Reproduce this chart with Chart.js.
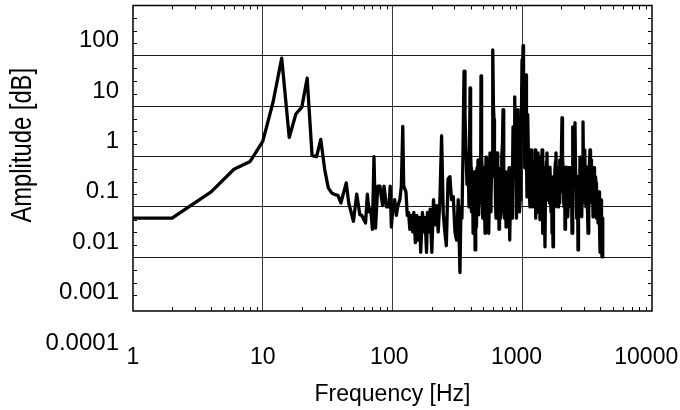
<!DOCTYPE html>
<html><head><meta charset="utf-8">
<script src="https://cdn.jsdelivr.net/npm/chart.js@4"></script>
<style>html,body{margin:0;padding:0;background:#fff}#wrap{width:680px;height:410px;position:relative}</style>
</head><body><div id="wrap"><canvas id="c"></canvas></div>
<script>
const freqs = [
  1,2,4,6,8,10,12,14,16,18,
  20,22,24,26,28,30,32,34,36,38,
  40,44,46,50,53,56,58,62,64,66,
  68,70,72,74,77,80,82,84,86,90,
  94,96,98,100,104,107,110,114,117,120,
  122,127,130,133,136,139,143,146,150,154,
  158,161,165,170,174,178,183,186,191,195,
  201,207,213,219,225,232,239,246,253,260,
  268,277,285,294,303,312,321,
  331,337,343,349,356,362,369,375,382,389,
  396,400,403,406,410,414,418,421,425,429,
  433,436,440,444,448,452,456,460,464,469,
  473,477,481,486,490,494,498,503,507,512,
  517,521,526,530,535,540,545,549,554,559,
  564,569,574,580,585,590,595,600,606,611,
  617,622,628,633,639,644,650,656,662,668,
  674,680,686,692,698,704,711,717,723,730,
  736,743,750,756,763,770,777,784,791,797,
  804,812,819,827,834,841,849,856,864,871,
  879,887,895,903,911,919,927,935,944,952,
  961,970,978,987,996,1005,1014,1023,1032,1041,
  1050,1060,1069,1078,1088,1097,1107,1117,1127,1137,
  1147,1158,1168,1178,1189,1199,1210,1221,1232,1243,
  1254,1265,1276,1288,1299,1311,1322,1334,1346,1358,
  1370,1382,1395,1407,1420,1432,1445,1458,1471,1484,
  1497,1510,1524,1537,1551,1565,1579,1593,1607,1621,
  1636,1651,1666,1681,1696,1711,1726,1741,1757,1772,
  1788,1804,1820,1836,1853,1869,1886,1903,1920,1937,
  1954,1971,1989,2007,2025,2043,2061,2080,2098,2117,
  2136,2155,2174,2193,2213,2232,2252,2272,2293,2313,
  2333,2354,2375,2396,2418,2439,2461,2483,2505,2527,
  2550,2573,2596,2619,2642,2666,2690,2714,2738,2762,
  2787,2812,2837,2862,2887,2913,2939,2965,2992,3018,
  3045,3072,3100,3127,3155,3183,3212,3240,3269,3298,
  3328,3358,3388,3418,3449,3479,3510,3541,3573,3605,
  3637,3670,3702,3735,3769,3802,3836,3870,3905,3940,
  3975,4010,4046,4082,4118,4154,4191
];
const amps = [
  0.03,0.03,0.1,0.28,0.4,1.0,6,45,1.2,3.5,
  4.8,18,0.52,0.5,1.1,0.28,0.12,0.095,0.088,0.085,
  0.06,0.15,0.06,0.026,0.09,0.035,0.034,0.024,0.09,0.04,
  0.045,0.018,0.5,0.019,0.13,0.13,0.08,0.053,0.13,0.05,
  0.05,0.13,0.02,0.039,0.07,0.034,0.053,0.07,0.13,2.0,
  0.13,0.1,0.034,0.039,0.018,0.034,0.016,0.039,0.0098,0.034,
  0.011,0.031,0.0063,0.039,0.016,0.031,0.0063,0.039,0.016,0.045,
  0.0063,0.07,0.022,0.053,0.016,0.07,1.3,0.039,0.016,0.0085,
  0.18,0.2,0.07,0.08,0.016,0.011,0.07,
  0.0025,0.05,0.03,0.5,25,3.4,0.6,0.14,0.4,0.05,
  11.6,0.6,0.3,0.04,0.07,0.2,0.015,0.1,0.044,0.25,
  0.007,0.05,0.07,0.02,0.3,0.08,0.43,0.1,0.035,0.2,
  0.3,0.06,20,0.5,0.31,0.03,0.05,0.25,0.2,0.04,
  0.015,0.15,0.49,0.05,0.1,0.3,0.43,0.06,0.015,0.12,
  0.59,0.04,0.069,0.25,0.3,1.2,66,5,2.7,0.2,
  0.3,0.06,0.03,0.2,0.59,0.07,0.1,0.3,0.018,0.09,
  0.15,0.03,0.04,0.2,0.5,0.9,4.3,0.5,0.13,0.03,
  0.05,0.25,0.02,0.1,0.2,0.04,0.05,0.2,0.3,0.05,
  0.011,0.08,0.13,0.3,0.03,0.2,1.95,0.4,0.2,1.0,
  7.7,0.5,0.13,0.03,0.03,0.4,4.3,0.3,0.3,0.04,
  0.069,0.3,0.5,5,42,20,80,10,6.7,0.6,
  0.3,3,21,0.5,0.079,0.6,3.4,0.4,0.3,0.08,
  0.05,0.3,0.68,0.06,0.1,0.35,0.05,0.15,0.4,0.07,
  0.68,0.1,0.03,0.25,0.039,0.3,0.59,0.06,0.2,0.4,
  0.028,0.15,0.5,0.08,0.68,0.1,0.015,0.2,0.3,0.05,
  0.0081,0.1,0.2,0.4,0.59,0.1,0.069,0.3,0.3,0.06,
  0.31,0.1,0.04,0.2,0.015,0.08,0.0081,0.1,0.2,0.05,
  0.24,0.4,0.59,0.08,0.1,0.3,0.05,0.15,0.3,0.06,
  0.43,0.15,0.1,0.8,2.95,0.5,0.31,0.08,0.05,0.25,
  0.018,0.1,0.31,0.05,0.1,0.3,0.032,0.1,0.3,0.06,
  0.17,0.3,0.05,0.2,0.015,0.3,1.95,0.2,0.3,0.8,
  2.35,0.3,0.13,0.03,0.04,0.2,0.007,0.08,0.2,0.05,
  0.49,0.1,0.1,0.3,0.032,0.4,2.45,0.3,0.3,0.06,
  0.68,0.1,0.05,0.25,0.31,0.05,0.015,0.1,0.2,0.4,
  0.68,0.1,0.43,0.06,0.1,0.3,0.032,0.1,0.3,0.05,
  0.069,0.2,0.15,0.03,0.05,0.1,0.024,0.08,0.1,0.02,
  0.0063,0.05,0.069,0.01,0.0051,0.03,0.011
];
const xTickValues = [1, 10, 100, 1000, 10000];
const xTickLabels = ['1', '10', '100 ', '1000\u2002', '10000\u2002'];
const yTickValues = [100, 10, 1, 0.1, 0.01, 0.001, 0.0001];
const yTickLabels = ['100', '10', '1', '0.1', '0.01', '0.001', '0.0001'];
const yGridValues = [50, 5, 0.5, 0.05, 0.005];
const xTitle = 'Frequency [Hz]';
const yTitle = 'Amplitude [dB]';

const X_MIN = 1, X_MAX = 10000, Y_MIN = 0.00043, Y_MAX = 500;
const FONT = "'Liberation Sans', Arial, sans-serif";

const frameTicks = {
  id: 'frameTicks',
  afterDraw(chart) {
    const {ctx, chartArea: a, scales} = chart;
    const x = scales.x, y = scales.y;
    ctx.save();
    ctx.strokeStyle = '#000';
    ctx.lineWidth = 1;
    ctx.beginPath();
    for (let d = 0; d < 4; d++) {
      for (let m = 2; m <= 9; m++) {
        const px = Math.round(x.getPixelForValue(m * Math.pow(10, d))) + 0.5;
        ctx.moveTo(px, a.bottom); ctx.lineTo(px, a.bottom - 4);
        ctx.moveTo(px, a.top); ctx.lineTo(px, a.top + 4);
      }
    }
    for (let k = -4; k <= 2; k++) {
      for (let j = 1; j <= 3; j++) {
        const v = 5 * Math.pow(10, k) * Math.pow(10, j / 4);
        if (v <= Y_MIN || v >= Y_MAX) continue;
        const py = Math.round(y.getPixelForValue(v)) + 0.5;
        ctx.moveTo(a.left, py); ctx.lineTo(a.left + 4, py);
        ctx.moveTo(a.right, py); ctx.lineTo(a.right - 4, py);
      }
    }
    ctx.stroke();
    ctx.lineWidth = 1.5;
    ctx.strokeRect(a.left, a.top, a.right - a.left, a.bottom - a.top);
    // y-axis title, slightly condensed like the original
    const cy = y.getPixelForValue(Math.sqrt(Y_MIN * Y_MAX)) - 13;
    ctx.translate(23, cy);
    ctx.rotate(-Math.PI / 2);
    ctx.scale(0.82, 1);
    ctx.font = "29px " + FONT;
    ctx.fillStyle = '#000';
    ctx.textAlign = 'center';
    ctx.textBaseline = 'middle';
    ctx.fillText(yTitle, 0, 0);
    ctx.restore();
  }
};

new Chart(document.getElementById('c'), {
  type: 'line',
  data: {
    datasets: [{
      data: freqs.map((f, i) => ({x: f, y: amps[i]})),
      borderColor: '#000',
      borderWidth: 3.3,
      borderJoinStyle: 'round',
      pointRadius: 0,
      tension: 0,
      fill: false
    }]
  },
  options: {
    responsive: true,
    maintainAspectRatio: false,
    animation: false,
    events: [],
    layout: {padding: {top: 5.5, right: 28, bottom: 0, left: 0}},
    plugins: {legend: {display: false}, tooltip: {enabled: false}},
    scales: {
      x: {
        type: 'logarithmic', position: 'bottom', min: X_MIN, max: X_MAX,
        afterBuildTicks: s => { s.ticks = xTickValues.map(v => ({value: v})); },
        afterFit: s => { s.height = 99; s.paddingLeft = 0; s.paddingRight = 0; },
        border: {display: false},
        grid: {
          drawTicks: false, tickLength: 0, lineWidth: 1,
          color: c => (c.tick && c.tick.value > X_MIN && c.tick.value < X_MAX) ? '#3a3a3a' : 'rgba(0,0,0,0)'
        },
        ticks: {
          autoSkip: false, maxRotation: 0, padding: 33, color: '#000',
          font: {family: FONT, size: 23},
          callback: v => { const i = xTickValues.indexOf(v); return i >= 0 ? xTickLabels[i] : ''; }
        },
        title: {display: true, text: xTitle, color: '#000', font: {family: FONT, size: 23}, padding: {top: 0, bottom: 2}}
      },
      y: {
        type: 'logarithmic', position: 'left', min: Y_MIN, max: Y_MAX,
        afterBuildTicks: s => { s.ticks = yTickValues.map(v => ({value: v})); },
        afterFit: s => { s.width = 133; s.paddingTop = 0; s.paddingBottom = 0; },
        border: {display: false},
        grid: {display: false, drawTicks: false, tickLength: 0},
        ticks: {
          autoSkip: false, padding: 14, color: '#000',
          font: {family: FONT, size: 24},
          callback: v => { const i = yTickValues.indexOf(v); return i >= 0 ? yTickLabels[i] : ''; }
        },
        title: {display: false}
      },
      yg: {
        type: 'logarithmic', axis: 'y', position: 'left', min: Y_MIN, max: Y_MAX,
        afterBuildTicks: s => { s.ticks = yGridValues.map(v => ({value: v})); },
        afterFit: s => { s.width = 0; s.paddingTop = 0; s.paddingBottom = 0; },
        border: {display: false},
        grid: {drawTicks: false, tickLength: 0, color: '#1a1a1a', lineWidth: 1},
        ticks: {display: false}
      }
    }
  },
  plugins: [frameTicks]
});
</script>
</body></html>
